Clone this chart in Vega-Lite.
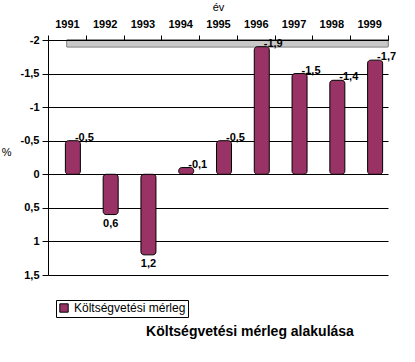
{
  "$schema": "https://vega.github.io/schema/vega-lite/v6.json",
  "width": 340,
  "height": 235,
  "autosize": "none",
  "padding": {"left": 48, "top": 40, "right": 27, "bottom": 87},
  "background": "white",
  "config": {
    "locale": {"number": {"decimal": ",", "thousands": " ", "grouping": [3], "currency": ["", " Ft"], "minus": "-"}},
    "font": "Liberation Sans",
    "view": {"stroke": null},
    "axis": {"labelFont": "Liberation Sans", "titleFont": "Liberation Sans", "labelColor": "black", "titleColor": "black", "domainColor": "black", "tickColor": "black", "labelFontSize": 11, "labelFontWeight": "bold"}
  },
  "title": {"text": "Költségvetési mérleg alakulása", "orient": "bottom", "offset": 7, "dx": 32, "fontSize": 14, "fontWeight": "bold", "font": "Liberation Sans", "color": "black"},
  "data": {"values": [
    {"year": "1991", "value": -0.5, "series": "Költségvetési mérleg"},
    {"year": "1992", "value": 0.6, "series": "Költségvetési mérleg"},
    {"year": "1993", "value": 1.2, "series": "Költségvetési mérleg"},
    {"year": "1994", "value": -0.1, "series": "Költségvetési mérleg"},
    {"year": "1995", "value": -0.5, "series": "Költségvetési mérleg"},
    {"year": "1996", "value": -1.9, "series": "Költségvetési mérleg"},
    {"year": "1997", "value": -1.5, "series": "Költségvetési mérleg"},
    {"year": "1998", "value": -1.4, "series": "Költségvetési mérleg"},
    {"year": "1999", "value": -1.7, "series": "Költségvetési mérleg"}
  ]},
  "encoding": {
    "x": {"field": "year", "type": "nominal", "sort": null,
      "scale": {"domain": ["1991", "1992", "1993", "1994", "1995", "1996", "1997", "1998", "1999"], "paddingInner": 0, "paddingOuter": 0},
      "axis": {"orient": "top", "title": "év", "labelAngle": 0, "titleFontSize": 11, "titleFontWeight": "normal", "titlePadding": 6, "tickBand": "extent", "labelPadding": 6, "tickSize": 5}},
    "y": {"field": "value", "type": "quantitative",
      "scale": {"domain": [-2, 1.5], "reverse": true, "nice": false},
      "axis": {"title": "%", "titleAngle": 0, "titleFontSize": 11, "titleFontWeight": "normal", "titlePadding": 14, "values": [-2, -1.5, -1, -0.5, 0, 0.5, 1, 1.5], "labelOverlap": false, "format": ".1~f", "grid": true, "gridColor": "black", "gridWidth": 1, "tickSize": 6, "labelPadding": 3}}
  },
  "layer": [
    {
      "mark": {"type": "rect", "fill": "#c8c8c8", "stroke": "#888888", "strokeWidth": 0.5},
      "encoding": {
        "x": {"datum": "1991"},
        "x2": {"datum": "1999", "bandPosition": 1},
        "y": {"datum": -2, "type": "quantitative",
          "scale": {"domain": [-2, 1.5], "reverse": true, "nice": false},
          "axis": {"title": "%", "titleAngle": 0, "titleFontSize": 11, "titleFontWeight": "normal", "titlePadding": 14, "values": [-2, -1.5, -1, -0.5, 0, 0.5, 1, 1.5], "labelOverlap": false, "format": ".1~f", "grid": true, "gridColor": "black", "gridWidth": 1, "tickSize": 6, "labelPadding": 3}},
        "y2": {"datum": -1.9}
      }
    },
    {
      "mark": {"type": "bar", "width": 15, "xOffset": 6, "color": "#993366", "stroke": "black", "strokeWidth": 1, "cornerRadius": 3},
      "encoding": {
        "y2": {"datum": 0},
        "color": {"field": "series", "type": "nominal", "scale": {"range": ["#993366"]},
          "legend": {"title": null, "orient": "none", "legendX": 8, "legendY": 260, "direction": "horizontal", "symbolType": "square", "symbolSize": 70, "symbolStrokeColor": "black", "symbolStrokeWidth": 1, "labelFontSize": 12, "labelFont": "Liberation Sans", "labelColor": "black", "strokeColor": "black", "padding": 2, "fillColor": "white", "labelLimit": 200}}
      }
    },
    {
      "transform": [{"filter": "datum.value < 0"}],
      "mark": {"type": "text", "baseline": "bottom", "align": "left", "dx": 8, "dy": 2, "fontWeight": "bold", "fontSize": 11, "color": "black"},
      "encoding": {
        "text": {"field": "value", "type": "quantitative", "format": ".1f"}
      }
    },
    {
      "transform": [{"filter": "datum.value > 0"}],
      "mark": {"type": "text", "baseline": "top", "align": "center", "dx": 6, "dy": 3, "fontWeight": "bold", "fontSize": 11, "color": "black"},
      "encoding": {
        "text": {"field": "value", "type": "quantitative", "format": ".1f"}
      }
    }
  ]
}
